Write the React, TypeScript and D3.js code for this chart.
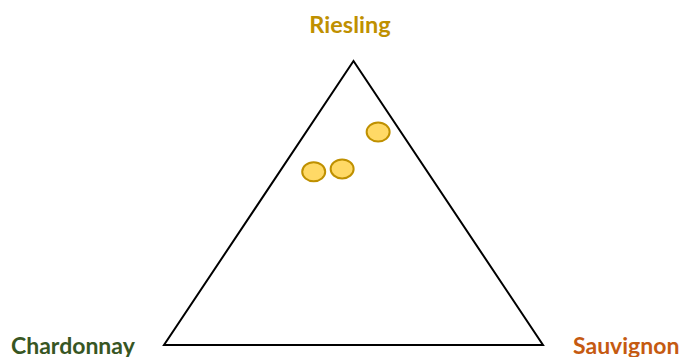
import React from "react";
import * as d3 from "d3";

// wine blend compositions (fractions of riesling / chardonnay / sauvignon)
const riesling = [0.75, 0.62, 0.61];
const chardonnay = [0.06, 0.22, 0.3];
const sauvignon = [0.19, 0.16, 0.09];

const vertexLabels = ["Riesling", "Chardonnay", "Sauvignon"];
const vertexColors = ["#BF9000", "#375623", "#C55A11"];

const W = 683;
const H = 357;

const App = () => {
  // unit triangle: chardonnay at (0,0), sauvignon at (1,0), riesling at (0.5,1)
  const x = d3.scaleLinear().domain([0, 1]).range([164, 543]);
  const y = d3.scaleLinear().domain([0, 1]).range([345, 61]);

  const toXY = (a: number, b: number, c: number) => {
    const s = a + b + c;
    return [x((c + a / 2) / s), y(a / s)];
  };

  const corners = [toXY(1, 0, 0), toXY(0, 1, 0), toXY(0, 0, 1)];
  const outline = d3.line()(corners as [number, number][]) + "Z";

  const points = riesling.map((r, i) => toXY(r, chardonnay[i], sauvignon[i]));

  return (
    <svg
      width={W}
      height={H}
      style={{ position: "absolute", left: 0, top: 0, background: "#fff" }}
      fontFamily="Lato, 'Open Sans', sans-serif"
      fontWeight="bold"
    >
      <path d={outline} fill="none" stroke="#000" strokeWidth={2} strokeLinejoin="miter" />
      {points.map(([px, py], i) => (
        <ellipse
          key={i}
          cx={px}
          cy={py}
          rx={11.5}
          ry={9.5}
          fill="#FFD966"
          stroke="#BF9000"
          strokeWidth={2}
        />
      ))}
      <text x={350} y={33} textAnchor="middle" fontSize={23.5} fill={vertexColors[0]}>
        {vertexLabels[0]}
      </text>
      <text x={11} y={354} textAnchor="start" fontSize={23} fill={vertexColors[1]}>
        {vertexLabels[1]}
      </text>
      <text x={573} y={354} textAnchor="start" fontSize={23} fill={vertexColors[2]}>
        {vertexLabels[2]}
      </text>
    </svg>
  );
};

export default App;
